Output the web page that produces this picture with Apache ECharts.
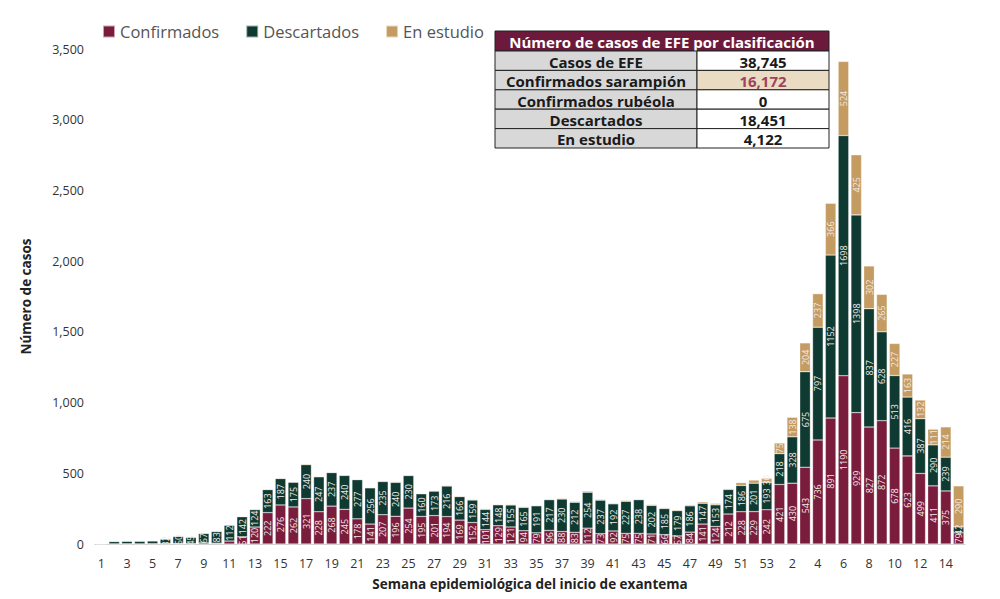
<!DOCTYPE html>
<html><head><meta charset="utf-8">
<script src="https://cdn.jsdelivr.net/npm/echarts@6/dist/echarts.min.js"></script>
<style>html,body{margin:0;padding:0;background:#fff}#c{width:1000px;height:599px}</style>
</head><body><div id="c"></div>
<script>
const weeks = [];
for (let i = 1; i <= 53; i++) weeks.push(String(i));
for (let i = 1; i <= 15; i++) weeks.push(String(i));

const confirmados = [0,1,1,1,2,3,4,3,8,6,21,51,120,222,276,262,321,228,268,245,178,141,207,196,254,195,201,194,169,152,101,129,121,94,79,96,88,83,112,73,92,75,75,71,66,57,84,141,124,212,228,229,242,
  421,430,543,736,891,1190,929,827,872,678,623,499,411,375,79];
const descartados = [3,17,19,19,20,32,50,45,67,83,112,142,124,163,187,175,240,247,237,240,277,256,235,240,230,160,173,216,166,159,144,148,155,165,191,217,230,212,254,237,192,227,238,202,185,179,186,147,153,174,186,201,193,
  218,328,675,797,1152,1698,1398,837,628,513,416,387,290,239,42];
const enEstudio = [0,0,0,0,0,0,2,0,2,2,2,3,3,3,3,3,6,5,4,4,4,4,5,5,5,4,4,5,5,5,5,5,5,5,5,6,6,6,8,6,6,6,6,6,6,6,8,10,10,5,20,22,30,
  75,138,204,237,366,524,425,302,265,227,163,132,111,214,290];

const yTicks = [0,500,1000,1500,2000,2500,3000,3500];

const tableTitle = 'Número de casos de EFE por clasificación';
const tableRows = ['Casos de EFE','Confirmados sarampión','Confirmados rubéola','Descartados','En estudio'];
const tableValues = ['38,745','16,172','0','18,451','4,122'];

const FONT = '"Open Sans","Noto Sans",sans-serif';
const colors = ['#7a1c3b','#0f3a31','#c49b61'];

function lbl() {
  return {
    show: true, position: 'inside', rotate: 90, fontSize: 9, color: '#f3eaea', fontFamily: FONT,
    formatter: p => (p.value >= 30 ? String(p.value) : '')
  };
}
function ser(name, data, color) {
  return {
    name, type: 'bar', stack: 'a', data, barWidth: 10.6,
    itemStyle: { color, borderColor: 'rgba(255,255,255,0.6)', borderWidth: 0.5 },
    label: lbl()
  };
}

// table graphic
const g = [];
const tx = 495, ty = 31, wL = 202, wR = 132, hH = 20, hR = 19.4;
g.push({ type: 'rect', shape: { x: tx, y: ty, width: wL + wR, height: hH }, style: { fill: '#6b1a3c', stroke: '#222', lineWidth: 1 } });
g.push({ type: 'text', x: tx + (wL + wR) / 2, y: ty + hH / 2 + 1, style: { text: tableTitle, fill: '#fff', font: 'bold 15px ' + FONT, align: 'center', verticalAlign: 'middle' } });
tableRows.forEach((r, i) => {
  const y = ty + hH + i * hR;
  g.push({ type: 'rect', shape: { x: tx, y, width: wL, height: hR }, style: { fill: '#d8d8d8', stroke: '#222', lineWidth: 1 } });
  g.push({ type: 'rect', shape: { x: tx + wL, y, width: wR, height: hR }, style: { fill: i === 1 ? '#eadcc2' : '#fff', stroke: '#222', lineWidth: 1 } });
  g.push({ type: 'text', x: tx + wL / 2, y: y + hR / 2 + 1, style: { text: r, fill: '#1a1a1a', font: 'bold 15px ' + FONT, align: 'center', verticalAlign: 'middle' } });
  g.push({ type: 'text', x: tx + wL + wR / 2, y: y + hR / 2 + 1, style: { text: tableValues[i], fill: i === 1 ? '#a0435e' : '#1a1a1a', font: 'bold 15px ' + FONT, align: 'center', verticalAlign: 'middle' } });
});

const chart = echarts.init(document.getElementById('c'), null, { renderer: 'svg' });
chart.setOption({
  animation: false,
  textStyle: { fontFamily: FONT },
  legend: {
    left: 97, top: 18, itemWidth: 12, itemHeight: 12, itemGap: 26, icon: 'rect',
    textStyle: { fontSize: 16.5, color: '#555', fontFamily: FONT }
  },
  grid: { left: 95, right: 35, top: 49, bottom: 55 },
  xAxis: {
    type: 'category', data: weeks,
    name: 'Semana epidemiológica del inicio de exantema', nameLocation: 'middle', nameGap: 33,
    nameTextStyle: { fontWeight: 'bold', fontSize: 13.5, color: '#222', fontFamily: FONT },
    axisTick: { show: false },
    axisLine: { lineStyle: { color: '#d0d0d0' } },
    axisLabel: { interval: 1, fontSize: 12.5, color: '#333', margin: 13, fontFamily: FONT }
  },
  yAxis: {
    type: 'value', min: yTicks[0], max: yTicks[yTicks.length - 1], interval: 500,
    name: 'Número de casos', nameLocation: 'middle', nameGap: 62, nameRotate: 90,
    nameTextStyle: { fontWeight: 'bold', fontSize: 13.5, color: '#222', fontFamily: FONT },
    axisLine: { show: false }, axisTick: { show: false }, splitLine: { show: false },
    axisLabel: { fontSize: 12.5, color: '#333', margin: 11, fontFamily: FONT, formatter: v => v.toLocaleString('en-US') }
  },
  series: [
    ser('Confirmados', confirmados, colors[0]),
    ser('Descartados', descartados, colors[1]),
    ser('En estudio', enEstudio, colors[2])
  ],
  graphic: g
});
</script></body></html>
